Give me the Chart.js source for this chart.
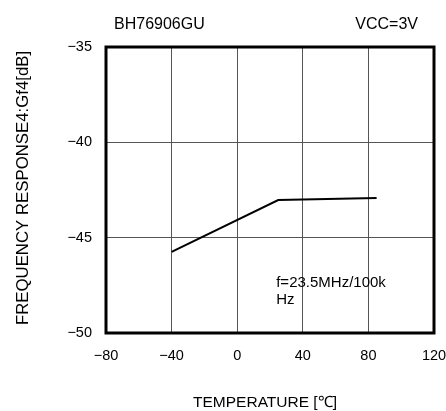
<!DOCTYPE html>
<html>
<head>
<meta charset="utf-8">
<script src="https://cdn.jsdelivr.net/npm/chart.js@4"></script>
<style>
html,body{margin:0;padding:0;background:#fff;}
#wrap{width:446px;height:411px;}
</style>
</head>
<body>
<div id="wrap"><canvas id="c" width="446" height="411"></canvas></div>
<script>
const temperatures = [-40, 25, 85];
const gainValues = [-45.74, -43.03, -42.92];
const xTicks = [-80, -40, 0, 40, 80, 120];
const yTicks = [-50, -45, -40, -35];
const headerLeft = 'BH76906GU';
const headerRight = 'VCC=3V';
const xTitle = 'TEMPERATURE [\u2103]';
const yTitle = 'FREQUENCY RESPONSE4:Gf4[dB]';
const noteLines = ['f=23.5MHz/100k', 'Hz'];

const FONT = '"Liberation Sans", Arial, Helvetica, sans-serif';
const minus = v => String(v).replace('-', '\u2212');

const textPlugin = {
  id: 'texts',
  afterDraw(chart) {
    const ctx = chart.ctx;
    const a = chart.chartArea;
    ctx.save();
    // frame
    ctx.strokeStyle = '#000';
    ctx.lineWidth = 3;
    ctx.strokeRect(a.left, a.top, a.right - a.left, a.bottom - a.top);
    ctx.fillStyle = '#000';
    // header
    ctx.font = '16px ' + FONT;
    ctx.textBaseline = 'alphabetic';
    ctx.textAlign = 'left';
    ctx.fillText(headerLeft, 114, 29);
    ctx.textAlign = 'right';
    ctx.fillText(headerRight, 418, 29);
    // annotation
    const xs = chart.scales.x, ys = chart.scales.y;
    ctx.font = '15px ' + FONT;
    ctx.textAlign = 'left';
    const nx = xs.getPixelForValue(25) - 2;
    const ny = ys.getPixelForValue(-47.6);
    ctx.fillText(noteLines[0], nx, ny);
    ctx.fillText(noteLines[1], nx, ny + 16.5);
    // x title
    ctx.font = '15.5px ' + FONT;
    ctx.textAlign = 'center';
    ctx.fillText(xTitle, 265, 407);
    // y title
    ctx.translate(28, 188);
    ctx.rotate(-Math.PI / 2);
    ctx.font = '16.8px ' + FONT;
    ctx.fillText(yTitle, 0, 0);
    ctx.restore();
  }
};

new Chart(document.getElementById('c'), {
  type: 'scatter',
  data: {
    datasets: [{
      data: temperatures.map((t, i) => ({x: t, y: gainValues[i]})),
      showLine: true,
      borderColor: '#000',
      backgroundColor: '#000',
      borderWidth: 2,
      pointRadius: 0,
      tension: 0
    }]
  },
  options: {
    responsive: false,
    animation: false,
    events: [],
    layout: {padding: {top: 47, left: 0, right: 12, bottom: 0}},
    plugins: {legend: {display: false}, tooltip: {enabled: false}, title: {display: false}},
    scales: {
      x: {
        type: 'linear',
        min: xTicks[0], max: xTicks[xTicks.length - 1],
        afterBuildTicks: s => { s.ticks = xTicks.map(v => ({value: v})); },
        afterFit: s => { s.height = 411 - 333; s.paddingLeft = 0; s.paddingRight = 0; },
        grid: {color: '#555', lineWidth: 1, drawTicks: false},
        border: {display: false},
        ticks: {color: '#000', font: {family: FONT, size: 14.5}, padding: 14, maxRotation: 0, callback: v => minus(v)}
      },
      y: {
        type: 'linear',
        min: yTicks[0], max: yTicks[yTicks.length - 1],
        afterBuildTicks: s => { s.ticks = yTicks.map(v => ({value: v})); },
        afterFit: s => { s.width = 106; s.paddingTop = 0; s.paddingBottom = 0; },
        grid: {color: '#555', lineWidth: 1, drawTicks: false},
        border: {display: false},
        ticks: {color: '#000', font: {family: FONT, size: 14.5}, padding: 14, callback: v => minus(v)}
      }
    }
  },
  plugins: [textPlugin]
});
</script>
</body>
</html>
